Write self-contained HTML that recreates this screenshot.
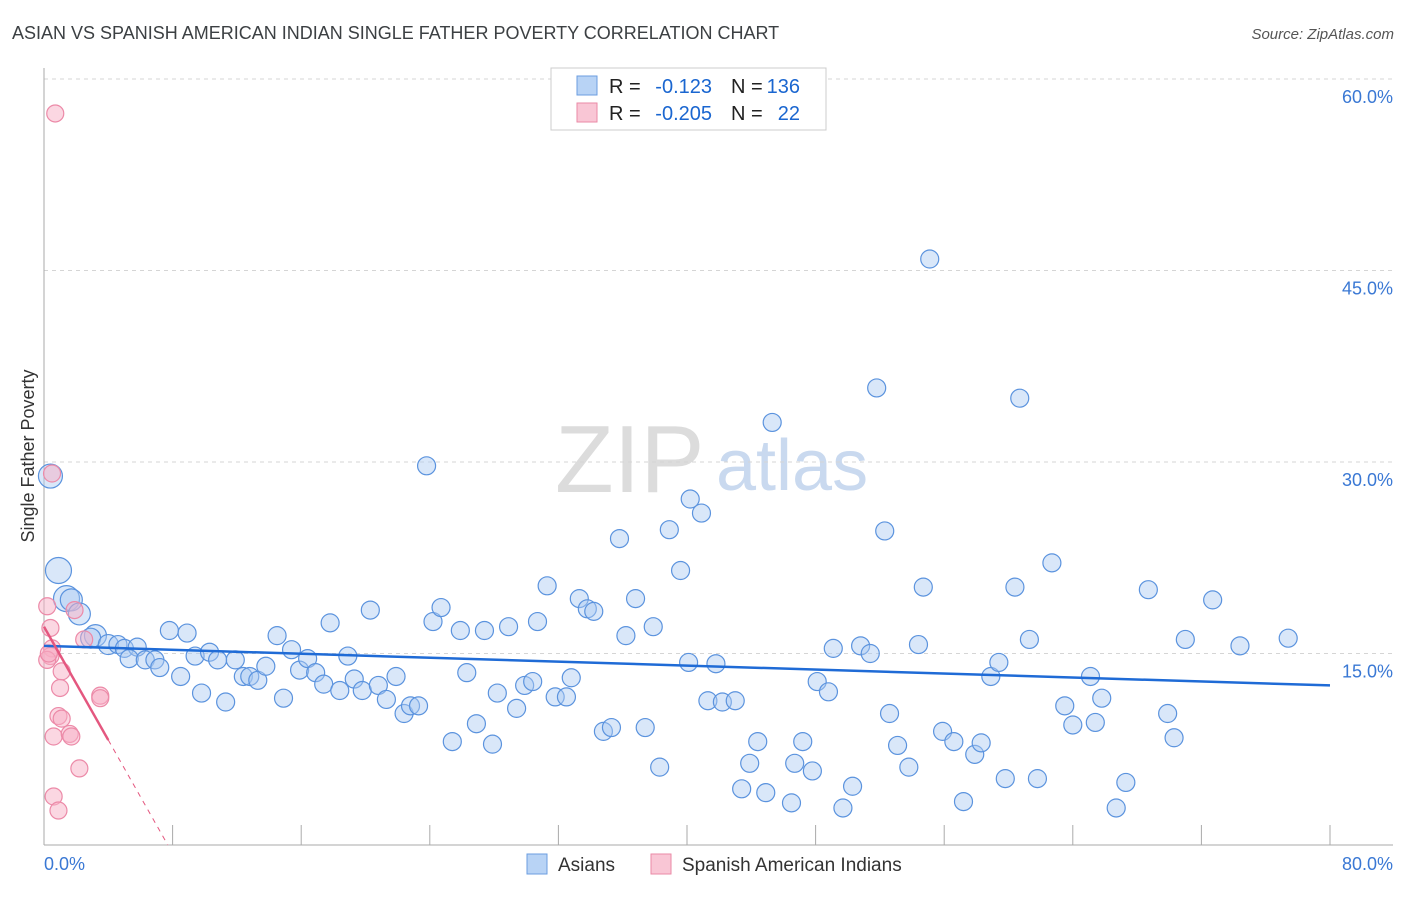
<!DOCTYPE html>
<html><head><meta charset="utf-8"><style>
body{margin:0;background:#fff;font-family:"Liberation Sans",sans-serif}
svg text{font-family:"Liberation Sans",sans-serif}
</style></head><body>
<svg id="chart" width="1406" height="892" viewBox="0 0 1406 892" xmlns="http://www.w3.org/2000/svg">
<text x="12" y="39" font-size="18" fill="#3c4043">ASIAN VS SPANISH AMERICAN INDIAN SINGLE FATHER POVERTY CORRELATION CHART</text>
<text x="1394" y="39" font-size="15" font-style="italic" fill="#555" text-anchor="end">Source: ZipAtlas.com</text>
<g>
<text x="555" y="492" font-size="96" font-family="Liberation Serif,serif" fill="#dcdcdc">ZIP</text>
<text x="716" y="490" font-size="72" fill="#c9d9ef">atlas</text>
</g>
<g id="grid"></g>
<g id="axes"></g>
<g id="pts"></g>
<g id="trend"></g>
<g>
<rect x="551" y="68" width="275" height="62" fill="#fff" stroke="#ccc"/>
<rect x="577" y="76" width="20" height="19" fill="#b8d3f5" stroke="#6b9ee0"/>
<rect x="577" y="103" width="20" height="19" fill="#f9c6d5" stroke="#ea8aa6"/>
<text x="609" y="93" font-size="20" fill="#222">R =</text>
<text x="712" y="93" font-size="20" fill="#1a66d0" text-anchor="end">-0.123</text>
<text x="731" y="93" font-size="20" fill="#222">N =</text>
<text x="800" y="93" font-size="20" fill="#1a66d0" text-anchor="end">136</text>
<text x="609" y="120" font-size="20" fill="#222">R =</text>
<text x="712" y="120" font-size="20" fill="#1a66d0" text-anchor="end">-0.205</text>
<text x="731" y="120" font-size="20" fill="#222">N =</text>
<text x="800" y="120" font-size="20" fill="#1a66d0" text-anchor="end">22</text>
</g>
<g>
<rect x="527" y="854" width="20" height="20" fill="#b8d3f5" stroke="#6b9ee0"/>
<text x="558" y="871" font-size="19" fill="#333">Asians</text>
<rect x="651" y="854" width="20" height="20" fill="#f9c6d5" stroke="#ea8aa6"/>
<text x="682" y="871" font-size="19" fill="#333">Spanish American Indians</text>
</g>
</svg>
<script>
const yTicks=[15,30,45,60];
const xTickLabels=["0.0%","80.0%"];
const asianX=[0.4,0.9,1.4,1.7,2.2,3.2,2.9,4.0,4.6,5.0,5.8,5.3,6.3,6.9,7.2,7.8,8.5,8.9,9.4,9.8,10.3,10.8,11.3,11.9,12.4,12.8,13.3,13.8,14.5,14.9,15.4,15.9,16.4,16.9,17.4,17.8,18.4,18.9,19.3,19.8,20.3,20.8,21.3,21.9,22.4,22.8,23.3,23.8,24.2,24.7,25.4,25.9,26.3,26.9,27.4,27.9,28.2,28.9,29.4,29.9,30.4,30.7,31.3,31.8,32.5,32.8,33.3,33.8,34.2,34.8,35.3,35.8,36.2,36.8,37.4,37.9,38.3,38.9,39.6,40.1,40.2,40.9,41.3,41.8,42.2,43.0,43.4,43.9,44.4,44.9,45.3,46.5,46.7,47.2,47.8,48.1,48.8,49.1,49.7,50.3,50.8,51.4,51.8,52.3,52.6,53.1,53.8,54.4,54.7,55.1,55.9,56.6,57.2,57.9,58.3,58.9,59.4,59.8,60.4,60.7,61.3,61.8,62.7,63.5,64.0,65.1,65.4,65.8,66.7,67.3,68.7,69.9,70.3,71.0,72.7,74.4,77.4];
const asianY=[28.9,21.5,19.3,19.2,18.1,16.4,16.2,15.7,15.7,15.4,15.5,14.6,14.5,14.5,13.9,16.8,13.2,16.6,14.8,11.9,15.1,14.5,11.2,14.5,13.2,13.2,12.9,14.0,16.4,11.5,15.3,13.7,14.6,13.5,12.6,17.4,12.1,14.8,13.0,12.1,18.4,12.5,11.4,13.2,10.3,10.9,10.9,29.7,17.5,18.6,8.1,16.8,13.5,9.5,16.8,7.9,11.9,17.1,10.7,12.5,12.8,17.5,20.3,11.6,11.6,13.1,19.3,18.5,18.3,8.9,9.2,24.0,16.4,19.3,9.2,17.1,6.1,24.7,21.5,14.3,27.1,26.0,11.3,14.2,11.2,11.3,4.4,6.4,8.1,4.1,33.1,3.3,6.4,8.1,5.8,12.8,12.0,15.4,2.9,4.6,15.6,15.0,35.8,24.6,10.3,7.8,6.1,15.7,20.2,45.9,8.9,8.1,3.4,7.1,8.0,13.2,14.3,5.2,20.2,35.0,16.1,5.2,22.1,10.9,9.4,13.2,9.6,11.5,2.9,4.9,20.0,10.3,8.4,16.1,19.2,15.6,16.2];
const asianR=[12,13,13,11,11,11,10,10,9,9,9,9,9,9,9];
const spanX=[0.7,0.2,1.9,0.4,2.5,0.5,0.4,0.2,1.1,1.0,3.5,3.5,0.9,1.1,0.6,1.6,1.7,2.2,0.6,0.9,0.5,0.3];
const spanY=[57.3,18.7,18.4,17.0,16.1,15.4,14.8,14.5,13.6,12.3,11.7,11.5,10.1,9.9,8.5,8.7,8.5,6.0,3.8,2.7,29.1,15.0];
const asianTrend=[15.6,12.5];
const spanTrend=[17.1];
const spanSlope=-2.22;
const X0=44,X1=1330,Y0=845,Y60=79;
const xs=v=>X0+v/80*(X1-X0);
const ys=v=>Y0-v/60*(Y0-Y60);
const NS="http://www.w3.org/2000/svg";
function mk(p,t,a){const e=document.createElementNS(NS,t);for(const k in a)e.setAttribute(k,a[k]);p.appendChild(e);return e;}
const grid=document.getElementById('grid'),axes=document.getElementById('axes'),pts=document.getElementById('pts'),tr=document.getElementById('trend');
yTicks.forEach(t=>{
 const l=mk(grid,'line',{x1:X0,x2:1393,y1:ys(t),y2:ys(t),stroke:'#d5d5d5','stroke-dasharray':'4,4'});
 
 
 const tx=mk(axes,'text',{x:1393,y:ys(t)+24,'font-size':18,fill:'#3a78d4','text-anchor':'end'});
 tx.textContent=t.toFixed(1)+'%';
 
 
});
mk(axes,'line',{x1:X0,x2:X0,y1:68,y2:Y0,stroke:'#aaa'});
mk(axes,'line',{x1:X0,x2:1393,y1:Y0,y2:Y0,stroke:'#aaa'});
for(let i=1;i<=10;i++){const l=mk(axes,'line',{x1:xs(i*8),x2:xs(i*8),y1:825,y2:Y0,stroke:'#aaa'});
 
 }
const xl0=mk(axes,'text',{x:44,y:870,'font-size':18,fill:'#3a78d4'});xl0.textContent=xTickLabels[0];


const xl1=mk(axes,'text',{x:1393,y:870,'font-size':18,fill:'#3a78d4','text-anchor':'end'});xl1.textContent=xTickLabels[1];


const yt=mk(axes,'text',{x:34,y:456,'font-size':18,fill:'#333','text-anchor':'middle',transform:'rotate(-90 34 456)'});yt.textContent='Single Father Poverty';


asianX.forEach((x,i)=>{const c=mk(pts,'circle',{cx:xs(x),cy:ys(asianY[i]),r:asianR[i]||9,fill:'rgba(170,202,242,0.45)',stroke:'#5b93de','stroke-width':1.2});
 
 });
spanX.forEach((x,i)=>{const c=mk(pts,'circle',{cx:xs(x),cy:ys(spanY[i]),r:8.5,fill:'rgba(248,175,198,0.5)',stroke:'#ec8aa8','stroke-width':1.2});
 
 });
const bl=mk(tr,'line',{x1:xs(0),y1:ys(asianTrend[0]),x2:xs(80),y2:ys(asianTrend[1]),stroke:'#1f6bd6','stroke-width':2.5});


const sy=x=>spanTrend[0]+spanSlope*x;
const pl=mk(tr,'line',{x1:xs(0),y1:ys(sy(0)),x2:xs(4),y2:ys(sy(4)),stroke:'#e4577f','stroke-width':2.5});


const pd=mk(tr,'line',{x1:xs(4),y1:ys(sy(4)),x2:xs(-spanTrend[0]/spanSlope),y2:ys(0),stroke:'#e4577f','stroke-width':1,'stroke-dasharray':'5,5'});


</script>
</body></html>
